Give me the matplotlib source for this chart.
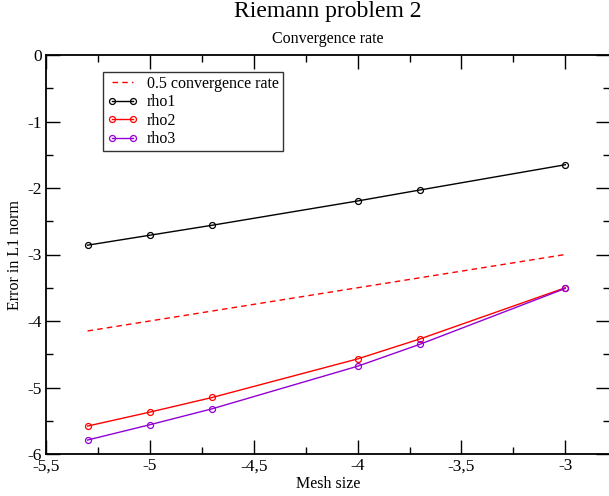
import matplotlib
matplotlib.use("Agg")
import matplotlib.pyplot as plt
from matplotlib.ticker import MultipleLocator, FuncFormatter

mesh = [-5.3, -5.0, -4.7, -4.0, -3.7, -3.0]
rho1 = [-2.86, -2.71, -2.56, -2.195, -2.03, -1.65]
rho2 = [-5.58, -5.37, -5.15, -4.57, -4.27, -3.50]
rho3 = [-5.79, -5.56, -5.32, -4.68, -4.35, -3.51]
rate_x = [-5.3, -3.0]
rate_y = [-4.15, -3.0]

plt.rcParams['font.family'] = ['Liberation Serif', 'DejaVu Serif']

fig = plt.figure(figsize=(6.09, 4.96), dpi=100)
ax = fig.add_axes([46 / 609, 42 / 496, 1 - 46 / 609 + 0.001, (454 - 55) / 496])

ax.plot(rate_x, rate_y, color='red', linestyle=(0, (4, 3)), lw=1, label='0.5 convergence rate')
mk = dict(marker='o', markersize=4.3, markerfacecolor='none', lw=1, markeredgewidth=0.9)
ax.plot(mesh, rho1, color='black', label='rho1', **mk)
ax.plot(mesh, rho2, color='red', label='rho2', **mk)
ax.plot(mesh, rho3, color='#9400d3', label='rho3', **mk)

ax.set_xlim(-5.5, -2.787)
ax.set_ylim(-6, 0)
ax.xaxis.set_major_locator(MultipleLocator(0.5))
ax.xaxis.set_minor_locator(MultipleLocator(0.25))
ax.yaxis.set_major_locator(MultipleLocator(1))
ax.yaxis.set_minor_locator(MultipleLocator(0.5))


def comma(v, pos):
    s = ('%g' % v).replace('.', ',')
    return s


ax.xaxis.set_major_formatter(FuncFormatter(comma))
ax.yaxis.set_major_formatter(FuncFormatter(comma))
ax.tick_params(which='both', direction='in', top=True, right=True, labelsize=12.5, width=1, pad=3)
ax.tick_params(which='major', length=10)
ax.tick_params(which='minor', length=5)
for s in ax.spines.values():
    s.set_linewidth(1.3)

ax.set_xlabel('Mesh size', fontsize=11.5, labelpad=1)
ax.set_ylabel('Error in L1 norm', fontsize=11.5, labelpad=3)

fig.text(0.5 * (46 / 609 + 1), 1 - 12 / 496, 'Riemann problem 2', ha='center', va='center', fontsize=17)
fig.text(0.5 * (46 / 609 + 1), 1 - 39 / 496, 'Convergence rate', ha='center', va='center', fontsize=11.5)

leg = ax.legend(loc='upper left', bbox_to_anchor=(57 / 563, 1 - 17 / 399), numpoints=2,
                fontsize=11.5, frameon=True, fancybox=False, handlelength=1.9,
                borderpad=0.25, labelspacing=0.15, handletextpad=0.6, borderaxespad=0)
leg.get_frame().set_edgecolor('black')
leg.get_frame().set_linewidth(1)

fig.savefig('out.png', dpi=100)
